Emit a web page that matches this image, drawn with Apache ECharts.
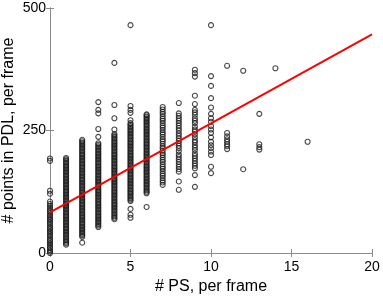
<!DOCTYPE html>
<html>
<head>
<meta charset="utf-8">
<script src="https://cdn.jsdelivr.net/npm/echarts@6/dist/echarts.min.js"></script>
<style>
  html, body { margin: 0; padding: 0; background: #fff; }
  #chart { width: 383px; height: 299px; }
</style>
</head>
<body>
<div id="chart"></div>
<script>
// points in PDL per frame, one list per # PS value
const col0 = [0, 3, 6, 10, 13, 17, 20, 24, 27, 31, 35, 38, 42, 45, 49, 52, 56, 60, 63, 67, 70, 74, 77, 81, 85, 88, 92, 96, 100, 105, 121, 127, 188, 193]
const col1 = [17, 20, 23, 26, 29, 32, 35, 38, 41, 44, 47, 50, 53, 56, 59, 62, 65, 68, 71, 74, 77, 80, 83, 86, 89, 92, 95, 98, 101, 104, 107, 110, 113, 116, 119, 122, 125, 128, 131, 134, 137, 140, 143, 146, 149, 152, 155, 158, 161, 164, 167, 170, 173, 176, 179, 182, 185, 188, 191, 194]
const col2 = [21, 33, 36, 39, 42, 45, 48, 51, 54, 57, 60, 63, 66, 69, 72, 75, 78, 81, 84, 87, 90, 93, 96, 99, 102, 105, 108, 111, 114, 117, 120, 123, 126, 129, 132, 135, 138, 141, 144, 147, 150, 153, 156, 159, 162, 165, 168, 171, 174, 177, 180, 183, 186, 189, 192, 195, 198, 201, 204, 207, 210, 213, 216, 219, 222, 225, 228, 231]
const col3 = [53, 56, 59, 62, 65, 68, 71, 74, 77, 80, 83, 86, 89, 92, 95, 98, 101, 104, 107, 110, 113, 116, 119, 122, 125, 128, 131, 134, 137, 140, 143, 146, 149, 152, 155, 158, 161, 164, 167, 170, 173, 176, 179, 182, 185, 188, 191, 194, 197, 200, 203, 206, 209, 212, 215, 218, 221, 224, 237, 253, 285, 292, 308]
const col4 = [69, 72, 75, 78, 81, 84, 87, 90, 93, 96, 99, 102, 105, 108, 111, 114, 117, 120, 123, 126, 129, 132, 135, 138, 141, 144, 147, 150, 153, 156, 159, 162, 165, 168, 171, 174, 177, 180, 183, 186, 189, 192, 195, 198, 201, 204, 207, 210, 213, 216, 219, 222, 225, 228, 231, 234, 237, 240, 243, 252, 275, 302, 388]
const col5 = [72, 78, 90, 106, 109, 112, 115, 118, 121, 124, 127, 130, 133, 136, 139, 142, 145, 148, 151, 154, 157, 160, 163, 166, 169, 172, 175, 178, 181, 184, 187, 190, 193, 196, 199, 202, 205, 208, 211, 214, 217, 220, 223, 226, 229, 232, 235, 238, 241, 244, 247, 250, 253, 256, 259, 262, 265, 271, 286, 292, 300, 465]
const col6 = [94, 122, 125, 128, 131, 134, 137, 140, 143, 146, 149, 152, 155, 158, 161, 164, 167, 170, 173, 176, 179, 182, 185, 188, 191, 194, 197, 200, 203, 206, 209, 212, 215, 218, 221, 224, 227, 230, 233, 236, 239, 242, 245, 248, 251, 254, 257, 260, 263, 266, 269, 272, 275, 278, 281, 283]
const col7 = [139, 144, 148, 153, 158, 162, 167, 172, 176, 181, 186, 190, 195, 200, 204, 209, 214, 218, 223, 228, 232, 237, 242, 246, 251, 256, 260, 265, 270, 274, 279, 284, 288, 293, 298]
const col8 = [129, 146, 166, 171, 176, 181, 186, 191, 196, 201, 208, 214, 219, 224, 229, 234, 239, 244, 250, 255, 260, 265, 270, 275, 280, 285, 306]
const col9 = [135, 159, 173, 178, 183, 188, 193, 198, 203, 210, 215, 220, 226, 230, 236, 242, 248, 252, 258, 265, 270, 275, 282, 287, 292, 304, 321, 360, 367, 374]
const col10 = [163, 176, 200, 207, 214, 220, 227, 236, 245, 252, 259, 268, 275, 284, 297, 316, 341, 361, 465]
const col11 = [212, 218, 222, 227, 232, 238, 245, 382]
const col12 = [171, 372]
const col13 = [211, 216, 222, 284]
const col14 = [377]
const col16 = [227]

const psValues = [0, 1, 2, 3, 4, 5, 6, 7, 8, 9, 10, 11, 12, 13, 14, 16]
const pdlColumns = [col0, col1, col2, col3, col4, col5, col6, col7, col8, col9, col10, col11, col12, col13, col14, col16]

// least squares fit
const fitX = [0, 20]
const fitY = [83, 446]

const xTicks = [0, 5, 10, 15, 20]
const yTicks = [0, 250, 500]

let points = []
psValues.forEach((ps, i) => {
  pdlColumns[i].forEach(v => {
    points.push([ps, v])
  })
})
let fitData = fitX.map((x, i) => [x, fitY[i]])

const chart = echarts.init(document.getElementById('chart'), null, { renderer: 'canvas' })

const axisGray = '#8c8c8c'
const font = 'Liberation Sans, Arial, Helvetica, sans-serif'

let option = {
  animation: false,
  backgroundColor: '#fff',
  grid: { left: 50, right: 11, top: 8, bottom: 46, containLabel: false, outerBoundsMode: 'none' },
  xAxis: [{
    type: 'value',
    position: 'bottom',
    min: xTicks[0],
    max: xTicks[xTicks.length - 1],
    interval: 5,
    name: '# PS, per frame',
    nameLocation: 'middle',
    nameGap: 26,
    nameMoveOverlap: false,
    nameTextStyle: { color: '#000', fontSize: 16, fontFamily: font },
    axisLine: { show: true, lineStyle: { color: axisGray, width: 1 } },
    axisTick: { show: true, inside: true, length: 4, lineStyle: { color: axisGray } },
    axisLabel: { color: '#000', fontSize: 14, fontFamily: font, margin: 7 },
    splitLine: { show: false }
  }, {
    type: 'value',
    position: 'top',
    min: xTicks[0],
    max: xTicks[xTicks.length - 1],
    interval: 5,
    axisLine: { show: true, lineStyle: { color: axisGray, width: 1 } },
    axisTick: { show: true, inside: true, length: 4, lineStyle: { color: axisGray } },
    axisLabel: { show: false },
    splitLine: { show: false }
  }],
  yAxis: [{
    type: 'value',
    position: 'left',
    min: yTicks[0],
    max: yTicks[yTicks.length - 1],
    interval: 250,
    name: '# points in PDL, per frame',
    nameLocation: 'middle',
    nameGap: 33,
    nameMoveOverlap: false,
    nameTextStyle: { color: '#000', fontSize: 16, fontFamily: font },
    axisLine: { show: true, lineStyle: { color: axisGray, width: 1 } },
    axisTick: { show: true, inside: true, length: 4, lineStyle: { color: axisGray } },
    axisLabel: { color: '#000', fontSize: 14, fontFamily: font, margin: 4 },
    splitLine: { show: false }
  }, {
    type: 'value',
    position: 'right',
    min: yTicks[0],
    max: yTicks[yTicks.length - 1],
    interval: 250,
    axisLine: { show: true, lineStyle: { color: axisGray, width: 1 } },
    axisTick: { show: true, inside: true, length: 4, lineStyle: { color: axisGray } },
    axisLabel: { show: false },
    splitLine: { show: false }
  }],
  series: [{
    type: 'scatter',
    xAxisIndex: 0,
    yAxisIndex: 0,
    data: points,
    symbol: 'circle',
    symbolSize: 5,
    itemStyle: { color: 'rgba(0,0,0,0)', borderColor: '#1a1a1a', borderWidth: 1.1 },
    z: 2
  }, {
    type: 'line',
    xAxisIndex: 0,
    yAxisIndex: 0,
    data: fitData,
    symbol: 'none',
    lineStyle: { color: '#ff0000', width: 2 },
    z: 3
  }]
}
chart.setOption(option)
</script>
</body>
</html>
